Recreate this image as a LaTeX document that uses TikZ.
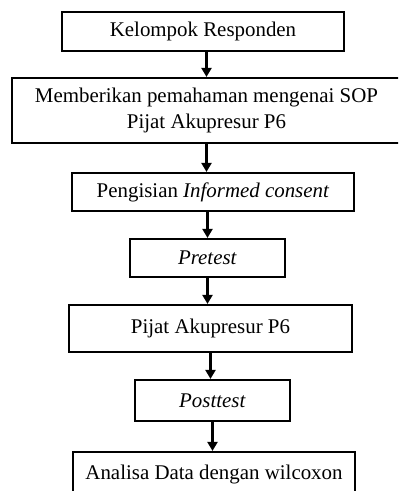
\documentclass[tikz,border=0pt]{standalone}
\usepackage{fontspec}
\setmainfont{Liberation Serif}
\usetikzlibrary{arrows.meta}

\tikzset{
  box/.style={draw, line width=1.1pt, inner sep=0pt, align=center,
    font=\fontsize{10.45}{12.8}\selectfont},
  flow/.style={line width=1.1pt, -{Triangle[width=5pt,length=4.5pt]}}
}

\begin{document}
\begin{tikzpicture}[x=0.5pt,y=-0.5pt]
\clip (0,0) rectangle (398,491);
\node[box, minimum width=141pt, minimum height=19.5pt] (b1) at (203,31.5) {Kelompok Responden};
\node[box, minimum width=194.5pt, minimum height=32.5pt] (b2) at (206.5,110.5) {Memberikan pemahaman mengenai SOP\\Pijat Akupresur P6};
\node[box, minimum width=141pt, minimum height=19pt] (b3) at (213,192) {Pengisian \textit{Informed consent}};
\node[box, minimum width=77.5pt, minimum height=19pt] (b4) at (207.5,258) {\textit{Pretest}};
\node[box, minimum width=141.5pt, minimum height=23.5pt] (b5) at (210.5,328.5) {Pijat Akupresur P6};
\node[box, minimum width=77.5pt, minimum height=20.5pt] (b6) at (212.5,400.5) {\textit{Posttest}};
\node[box, minimum width=141pt, minimum height=22pt] (b7) at (214,474) {Analisa Data dengan wilcoxon};
% arrows
\draw[flow] (b2.north |- b1.south) -- (b2.north);
\draw[flow] (b2.south) -- (b2.south |- b3.north);
\draw[flow] (b4.north |- b3.south) -- (b4.north);
\draw[flow] (b4.south) -- (b4.south |- b5.north);
\draw[flow] (b5.south) -- (b5.south |- b6.north);
\draw[flow] (b6.south) -- (b6.south |- b7.north);
\end{tikzpicture}
\end{document}
